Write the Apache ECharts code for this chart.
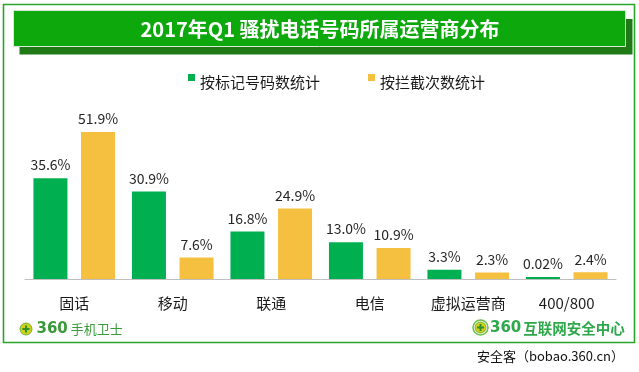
<!DOCTYPE html>
<html>
<head>
<meta charset="utf-8">
<script src="https://cdn.jsdelivr.net/npm/echarts@6/dist/echarts.min.js"></script>
<style>
html,body{margin:0;padding:0;background:#fff;}
#main{width:639px;height:372px;}
</style>
</head>
<body>
<div id="main"></div>
<script>
const titleText = '2017年Q1 骚扰电话号码所属运营商分布';
const categories = ['固话', '移动', '联通', '电信', '虚拟运营商', '400/800'];
const seriesNames = ['按标记号码数统计', '按拦截次数统计'];
const byNumber = [35.6, 30.9, 16.8, 13.0, 3.3, 0.02];
const byBlock = [51.9, 7.6, 24.9, 10.9, 2.3, 2.4];

const FONT = '"Noto Sans CJK SC", "Noto Sans", sans-serif';
const GREEN = '#00b050';
const YELLOW = '#f5bf40';

function fmt(p) {
  const v = p.value;
  return (v < 0.1 ? v.toFixed(2) : v.toFixed(1)) + '%';
}

const chart = echarts.init(document.getElementById('main'), null, {renderer: 'canvas'});
chart.setOption({
  animation: false,
  backgroundColor: '#ffffff',
  textStyle: {fontFamily: FONT},
  legend: {
    left: 188, top: 74, padding: 0,
    itemWidth: 7, itemHeight: 7, itemGap: 48,
    icon: 'rect',
    formatter: function (name) { return '{t|' + name + '}'; },
    textStyle: {fontSize: 15, color: '#1a1a1a', fontFamily: FONT,
      rich: {t: {fontSize: 15, color: '#1a1a1a', fontFamily: FONT, padding: [9, 0, 0, 0]}}},
    data: seriesNames
  },
  grid: {left: 25, right: 23, top: 109, bottom: 93},
  xAxis: {
    type: 'category',
    data: categories,
    axisLine: {lineStyle: {color: '#bfbfbf', width: 1}},
    axisTick: {show: false},
    axisLabel: {
      interval: 0,
      fontSize: 15, color: '#1a1a1a', fontFamily: FONT, margin: 17,
      formatter: function (v) { return v === '400/800' ? '{n|' + v + '}' : v; },
      rich: {n: {fontSize: 15, color: '#1a1a1a', fontFamily: FONT, padding: [0, 0, 5, 0]}}
    }
  },
  yAxis: {type: 'value', min: 0, max: 60, show: false, splitLine: {show: false}},
  series: [
    {
      name: seriesNames[0], type: 'bar', data: byNumber,
      barWidth: 34, barGap: '40%', barMinHeight: 2,
      itemStyle: {color: GREEN},
      label: {show: true, position: 'top', distance: 6, fontSize: 14, color: '#262626', fontFamily: FONT, formatter: fmt}
    },
    {
      name: seriesNames[1], type: 'bar', data: byBlock,
      barWidth: 34, barGap: '40%',
      itemStyle: {color: YELLOW},
      label: {show: true, position: 'top', distance: 6, fontSize: 14, color: '#262626', fontFamily: FONT, formatter: fmt}
    }
  ],
  graphic: [
    {type: 'rect', z: -1, shape: {x: 3.5, y: 4.5, width: 631, height: 338}, style: {fill: 'none', stroke: '#2aa52a', lineWidth: 1.6}},
    {type: 'rect', shape: {x: 19.5, y: 19, width: 613, height: 35.5}, style: {fill: '#1f7a16'}},
    {type: 'rect', shape: {x: 13.5, y: 10.5, width: 612, height: 36}, style: {fill: '#0ca80c', stroke: '#d9e8d9', lineWidth: 1}},
    {type: 'text', style: {x: 320, y: 29, text: titleText, fill: '#ffffff', font: 'bold 20px ' + FONT, textAlign: 'center', textVerticalAlign: 'middle'}},
    // left logo
    {type: 'circle', shape: {cx: 26, cy: 329, r: 6}, style: {fill: '#cfd21a', stroke: '#5aa02a', lineWidth: 0.8}},
    {type: 'rect', shape: {x: 25, y: 325.5, width: 2, height: 7}, style: {fill: '#2f8f2f'}},
    {type: 'rect', shape: {x: 22.5, y: 328, width: 7, height: 2}, style: {fill: '#2f8f2f'}},
    {type: 'text', style: {x: 36.5, y: 329.5, text: '{a|360}{b|手机卫士}', textVerticalAlign: 'middle',
      rich: {a: {fontSize: 15, fontWeight: 'bold', fontFamily: '"DejaVu Sans", sans-serif', fill: '#3a9a3a', color: '#3a9a3a', padding: [0, 3, 0, 0]},
             b: {fontSize: 13, fontFamily: FONT, color: '#3a9a3a', fill: '#3a9a3a'}}}},
    // right logo
    {type: 'circle', shape: {cx: 480.5, cy: 327.5, r: 7.5}, style: {fill: 'none', stroke: '#6bbf4a', lineWidth: 1.5}},
    {type: 'circle', shape: {cx: 480.5, cy: 327.5, r: 5.5}, style: {fill: '#cfd21a', stroke: '#5aa02a', lineWidth: 0.8}},
    {type: 'rect', shape: {x: 479.5, y: 324, width: 2, height: 7}, style: {fill: '#2f8f2f'}},
    {type: 'rect', shape: {x: 477, y: 326.5, width: 7, height: 2}, style: {fill: '#2f8f2f'}},
    {type: 'text', style: {x: 490, y: 328, text: '{a|360}{b|互联网安全中心}', textVerticalAlign: 'middle',
      rich: {a: {fontSize: 15, fontWeight: 'bold', fontFamily: '"DejaVu Sans", sans-serif', color: '#2ea84a', fill: '#2ea84a', padding: [0, 2, 0, 0]},
             b: {fontSize: 14.5, fontWeight: 'bold', fontFamily: FONT, color: '#2ea84a', fill: '#2ea84a'}}}},
    // watermark
    {type: 'text', style: {x: 624, y: 356, text: '安全客（bobao.360.cn）', fill: '#111111', font: '13px ' + FONT, textAlign: 'right', textVerticalAlign: 'middle'}}
  ]
});
</script>
</body>
</html>
